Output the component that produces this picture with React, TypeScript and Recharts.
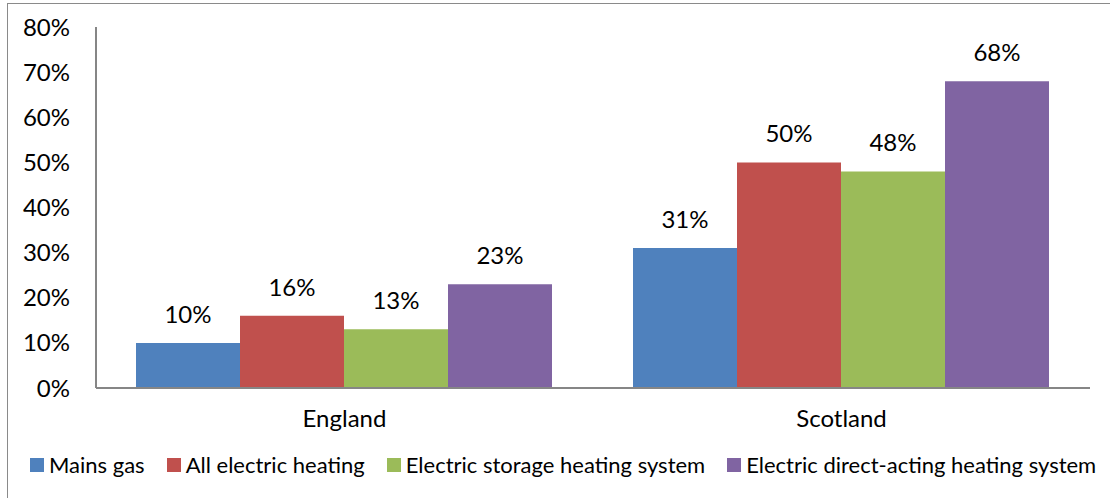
import React from 'react';
import { BarChart, Bar, XAxis, YAxis, Legend, LabelList } from 'recharts';

const regions = ['England', 'Scotland'];
const mainsGas = [10, 31];
const allElectric = [16, 50];
const storageHeating = [13, 48];
const directActing = [23, 68];
const yTicks = [0, 10, 20, 30, 40, 50, 60, 70, 80];

const series = [
  { key: 'mainsGas', name: 'Mains gas', color: '#4F81BD' },
  { key: 'allElectric', name: 'All electric heating', color: '#C0504D' },
  { key: 'storageHeating', name: 'Electric storage heating system', color: '#9BBB59' },
  { key: 'directActing', name: 'Electric direct-acting heating system', color: '#8064A2' },
];

const data = regions.map((region, i) => ({
  region,
  mainsGas: mainsGas[i],
  allElectric: allElectric[i],
  storageHeating: storageHeating[i],
  directActing: directActing[i],
}));

const FONT = 'Lato, "Open Sans", sans-serif';

// legend drawn as a row of squares + labels, like the Excel original
const renderLegend = () => (
  <div style={{ display: 'flex', alignItems: 'center', fontFamily: FONT, fontSize: 22, color: '#000', paddingLeft: 30, lineHeight: '27px', whiteSpace: 'nowrap' }}>
    {series.map((s) => (
      <div key={s.key} style={{ display: 'flex', alignItems: 'center', marginRight: 22, flexShrink: 0 }}>
        <span style={{ width: 14, height: 14, background: s.color, display: 'inline-block', marginRight: 5 }} />
        <span>{s.name}</span>
      </div>
    ))}
  </div>
);

const App: React.FC = () => {
  return (
    <div style={{ position: 'absolute', left: 0, top: 0, width: 1110, height: 498, background: '#fff', overflow: 'hidden' }}>
      <div style={{ position: 'absolute', left: 7, top: 3, width: 1120, height: 520, border: '1.5px solid #8a8a8a' }} />
      <BarChart
        width={1110}
        height={498}
        data={data}
        margin={{ top: 27, right: 20, left: 0, bottom: 33 }}
        barCategoryGap={40}
        barGap={0}
        style={{ fontFamily: FONT }}
      >
        <XAxis
          dataKey="region"
          axisLine={{ stroke: '#868686', strokeWidth: 2 }}
          tickLine={false}
          tickSize={0}
          tickMargin={22}
          tick={{ fontSize: 24, fill: '#000' }}
          height={50}
        />
        <YAxis
          domain={[0, 80]}
          ticks={yTicks}
          interval={0}
          tickFormatter={(v) => `${v}%`}
          axisLine={{ stroke: '#868686', strokeWidth: 2 }}
          tickLine={false}
          tickSize={0}
          tickMargin={26}
          tick={{ fontSize: 24, fill: '#000' }}
          width={96}
        />
        <Legend verticalAlign="bottom" content={renderLegend} wrapperStyle={{ left: 0, bottom: 20, width: 1110 }} />
        {series.map((s) => (
          <Bar key={s.key} dataKey={s.key} name={s.name} fill={s.color} isAnimationActive={false}>
            <LabelList
              dataKey={s.key}
              position="top"
              offset={20}
              formatter={(v: number) => `${v}%`}
              style={{ fontSize: 24, fill: '#000', fontFamily: FONT }}
            />
          </Bar>
        ))}
      </BarChart>
    </div>
  );
};

export default App;
